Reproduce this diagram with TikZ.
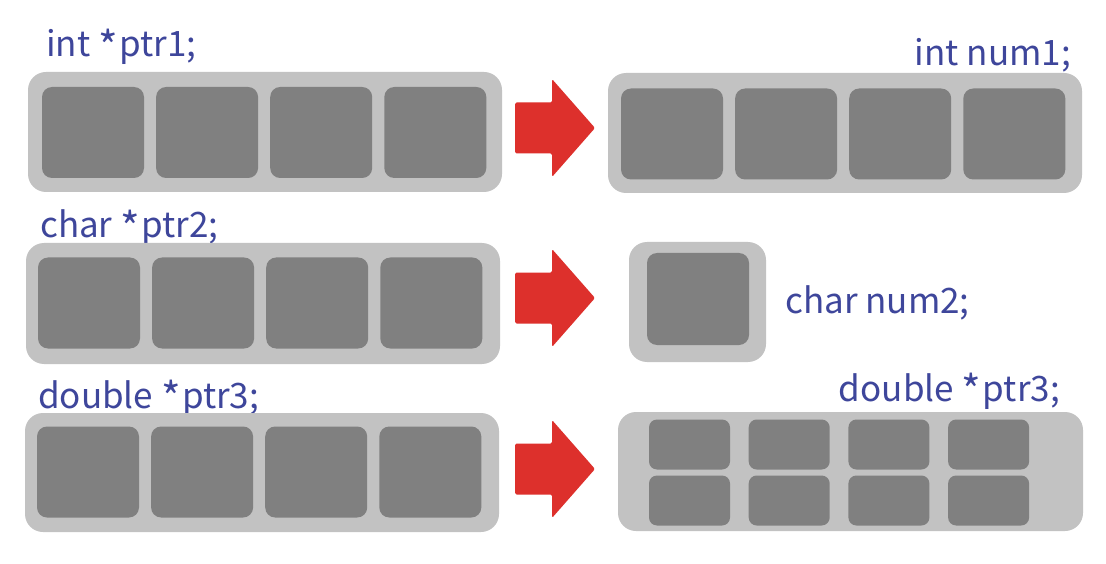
\documentclass[tikz,border=0pt]{standalone}
\usepackage{fontspec}
\setmainfont{Noto Sans CJK KR}
\usetikzlibrary{positioning}
\definecolor{framegray}{RGB}{194,194,194}
\definecolor{cellgray}{RGB}{128,128,128}
\definecolor{arrowred}{RGB}{221,48,44}
\definecolor{codeblue}{RGB}{62,70,155}
\newcommand\lowstar{\raisebox{-0.17em}{\scalebox{1.2}{*}}\kern0.04em}

\begin{document}
\begin{tikzpicture}[
  x=1pt, y=-1pt,
  node distance=11.7pt,
  frame/.style={fill=framegray, rounded corners=18pt, inner sep=0pt},
  cell/.style={fill=cellgray, rounded corners=10pt, minimum width=102pt, minimum height=91pt, inner sep=0pt},
  halfcell/.style={fill=cellgray, rounded corners=8pt, minimum width=81pt, minimum height=50pt, inner sep=0pt},
  code/.style={text=codeblue, font=\fontsize{35}{38}\selectfont, inner sep=0pt},
  redarrow/.style={fill=arrowred, rounded corners=1.5pt}
]
\useasboundingbox[fill=white] (0,0) rectangle (1106,564);

% labels (the frames cover their descenders)
\node[code, anchor=base west] (ptr1) at (46,57) {int \lowstar ptr1;};
\node[code, anchor=base east] (num1) at (1071,66) {int num1;};
\node[code, anchor=base west] (ptr2) at (40,238) {char \lowstar ptr2;};
\node[code, anchor=base west] (num2) at (785,313) {char num2;};
\node[code, anchor=base west] (ptr3) at (38,408) {double \lowstar ptr3;};
\node[code, anchor=base east] (dbl3) at (1060,401) {double \lowstar ptr3;};

% frames
\node[frame, minimum width=474pt, minimum height=120pt] (mem1) at (265,132) {};
\node[frame, minimum width=474pt, minimum height=121pt] (mem2) at (263,303.5) {};
\node[frame, minimum width=474pt, minimum height=119pt] (mem3) at (262,472.5) {};
\node[frame, minimum width=474pt, minimum height=120pt] (int1) at (845,133) {};
\node[frame, minimum width=137pt, minimum height=120pt] (chr2) at (697.5,302) {};
\node[frame, minimum width=465pt, minimum height=119pt] (dbl) at (850.5,471.5) {};

% byte cells
\node[cell] (a1) at (93,132.5) {};
\node[cell] (b1) at (89,303) {};
\node[cell] (c1) at (88,472) {};
\node[cell] (d1) at (672,134) {};
\foreach \i [count=\j from 2] in {1,2,3} {
  \node[cell, right=of a\i] (a\j) {};
  \node[cell, right=of b\i] (b\j) {};
  \node[cell, right=of c\i] (c\j) {};
  \node[cell, right=of d\i] (d\j) {};
}
\node[cell, minimum height=92pt] (e1) at (698,299) {};
\foreach \k in {0,...,3} {
  \node[halfcell] (up\k) at (689.5+99.7*\k,444.5) {};
  \node[halfcell] (lo\k) at (689.5+99.7*\k,500.5) {};
}

% red arrows
\foreach \c in {128,298,469}
  \fill[redarrow] (515,\c-25.5) -- (552,\c-25.5) -- (552,\c-49) -- (595,\c)
    -- (552,\c+49) -- (552,\c+25.5) -- (515,\c+25.5) -- cycle;

\end{tikzpicture}
\end{document}
